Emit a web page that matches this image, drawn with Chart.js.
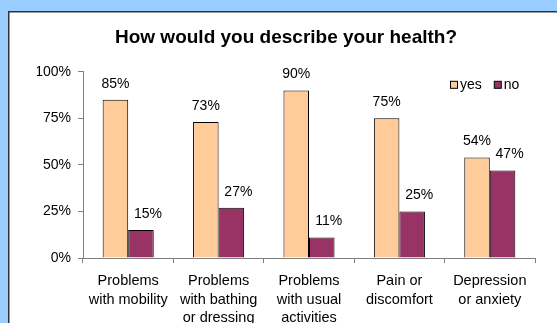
<!DOCTYPE html>
<html>
<head>
<meta charset="utf-8">
<script src="https://cdn.jsdelivr.net/npm/chart.js@4/dist/chart.umd.min.js"></script>
<style>
  html, body { margin: 0; padding: 0; background: #99CCFF; }
  #wrap { position: relative; width: 557px; height: 323px; overflow: hidden; }
  canvas { display: block; }
</style>
</head>
<body>
<div id="wrap"><canvas id="c" width="557" height="323"></canvas></div>
<script>
// Survey answers per health dimension
const categories = [
  ["Problems", "with mobility"],
  ["Problems", "with bathing", "or dressing"],
  ["Problems", "with usual", "activities"],
  ["Pain or", "discomfort"],
  ["Depression", "or anxiety"]
];
const seriesNames = ["yes", "no"];
const yesValues = [85, 73, 90, 75, 54];
const noValues = [15, 27, 11, 25, 47];
const yTickValues = [0, 25, 50, 75, 100];

const FONT = "'Liberation Sans', Arial, Helvetica, sans-serif";
const YES_COLOR = '#FFCC99';
const NO_COLOR = '#993366';

// Blue backdrop with a white framed panel
const panelPlugin = {
  id: 'panel',
  beforeDraw(chart) {
    const ctx = chart.ctx;
    ctx.save();
    ctx.fillStyle = '#99CCFF';
    ctx.fillRect(0, 0, chart.width, chart.height);
    ctx.fillStyle = '#FFFFFF';
    ctx.fillRect(9, 12, chart.width, chart.height);
    ctx.strokeStyle = '#333333';
    ctx.lineWidth = 1.5;
    ctx.strokeRect(8.75, 11.75, chart.width + 20, chart.height + 20);
    ctx.restore();
  }
};

// Percentage labels above each bar
const valueLabelPlugin = {
  id: 'valueLabels',
  afterDatasetsDraw(chart) {
    const ctx = chart.ctx;
    ctx.save();
    ctx.font = '14px ' + FONT;
    ctx.fillStyle = '#000000';
    ctx.textAlign = 'center';
    ctx.textBaseline = 'middle';
    chart.data.datasets.forEach((ds, di) => {
      const meta = chart.getDatasetMeta(di);
      const dx = di === 1 ? 7 : 0;
      meta.data.forEach((bar, i) => {
        ctx.fillText(ds.data[i] + '%', bar.x + dx, bar.y - 16);
      });
    });
    ctx.restore();
  }
};

// Compact legend in the upper right of the plot
const legendPlugin = {
  id: 'miniLegend',
  afterDraw(chart) {
    const ctx = chart.ctx;
    const area = chart.chartArea;
    ctx.save();
    ctx.font = '14px ' + FONT;
    ctx.textBaseline = 'middle';
    ctx.textAlign = 'left';
    let x = area.right - 85;
    const y = area.top + 13;
    chart.data.datasets.forEach(ds => {
      ctx.fillStyle = ds.backgroundColor;
      ctx.fillRect(x + 0.5, y - 3.5, 7, 7);
      ctx.strokeStyle = '#000000';
      ctx.lineWidth = 1;
      ctx.strokeRect(x + 0.5, y - 3.5, 7, 7);
      ctx.fillStyle = '#000000';
      ctx.fillText(ds.label, x + 10, y);
      x += 10 + ctx.measureText(ds.label).width + 12;
    });
    ctx.restore();
  }
};

new Chart(document.getElementById('c'), {
  type: 'bar',
  data: {
    labels: categories,
    datasets: [
      { label: seriesNames[0], data: yesValues, backgroundColor: YES_COLOR, borderColor: '#000000', borderWidth: 1 },
      { label: seriesNames[1], data: noValues, backgroundColor: NO_COLOR, borderColor: '#000000', borderWidth: 1 }
    ]
  },
  options: {
    responsive: false,
    animation: false,
    datasets: { bar: { categoryPercentage: 0.565, barPercentage: 1.0 } },
    layout: { padding: { left: 37, right: 22, top: 0, bottom: 0 } },
    plugins: {
      legend: { display: false },
      tooltip: { enabled: false },
      title: {
        display: true,
        text: 'How would you describe your health?',
        color: '#000000',
        font: { family: FONT, size: 19, weight: 'bold', lineHeight: 1.2 },
        padding: { top: 26, bottom: 23 }
      }
    },
    scales: {
      x: {
        grid: { display: true, drawOnChartArea: false, drawTicks: true, tickLength: 5, color: '#808080', offset: true },
        border: { display: true, color: '#808080', width: 1 },
        ticks: { color: '#000000', font: { family: FONT, size: 14.5, lineHeight: 1.27 }, padding: 9, maxRotation: 0, autoSkip: false },
        afterFit(scale) { scale.height = 65; }
      },
      y: {
        min: 0,
        max: 100,
        afterBuildTicks(scale) { scale.ticks = yTickValues.map(v => ({ value: v })); },
        grid: { display: true, drawOnChartArea: false, drawTicks: true, tickLength: 5, color: '#808080' },
        border: { display: true, color: '#808080', width: 1 },
        ticks: { color: '#000000', font: { family: FONT, size: 14 }, padding: 7, callback: v => v + '%' },
        afterFit(scale) { scale.width = 46; }
      }
    }
  },
  plugins: [panelPlugin, valueLabelPlugin, legendPlugin]
});
</script>
</body>
</html>
